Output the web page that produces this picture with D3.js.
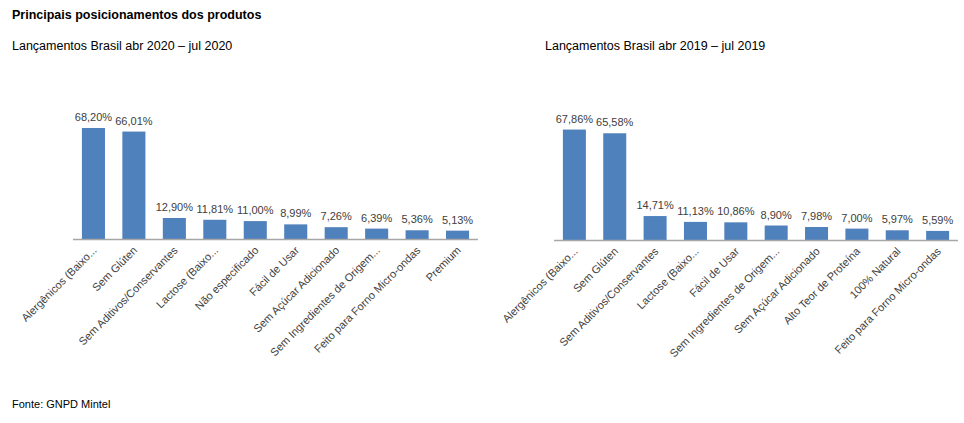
<!DOCTYPE html>
<html>
<head>
<meta charset="utf-8">
<script src="https://d3js.org/d3.v7.min.js"></script>
<style>
body { margin: 0; background: #fff; }
text { font-family: "Liberation Sans", Arial, sans-serif; }
</style>
</head>
<body>
<svg id="chart" width="964" height="423"></svg>
<script>
var cats2020 = ["Alergênicos (Baixo...", "Sem Glúten", "Sem Aditivos/Conservantes", "Lactose  (Baixo...",
    "Não especificado", "Fácil de Usar", "Sem Açúcar Adicionado", "Sem Ingredientes de Origem...",
    "Feito para Forno Micro-ondas", "Premium"];
var vals2020 = [68.20, 66.01, 12.90, 11.81, 11.00, 8.99, 7.26, 6.39, 5.36, 5.13];

var cats2019 = ["Alergênicos (Baixo...", "Sem Glúten", "Sem Aditivos/Conservantes", "Lactose  (Baixo...",
    "Fácil de Usar", "Sem Ingredientes de Origem...", "Sem Açúcar Adicionado", "Alto Teor de Proteína",
    "100% Natural", "Feito para Forno Micro-ondas"];
var vals2019 = [67.86, 65.58, 14.71, 11.13, 10.86, 8.90, 7.98, 7.00, 5.97, 5.59];

var svg = d3.select("#chart");

svg.append("text").attr("x", 12).attr("y", 19).attr("font-size", 12.5)
    .attr("font-weight", "bold").attr("fill", "#000")
    .text("Principais posicionamentos dos produtos");

svg.append("text").attr("x", 12).attr("y", 50).attr("font-size", 12.5).attr("fill", "#000")
    .text("Lançamentos Brasil abr 2020 – jul 2020");
svg.append("text").attr("x", 545).attr("y", 50).attr("font-size", 12.5).attr("fill", "#000")
    .text("Lançamentos Brasil abr 2019 – jul 2019");
svg.append("text").attr("x", 12).attr("y", 408).attr("font-size", 11).attr("fill", "#000")
    .text("Fonte: GNPD Mintel");

function fmt(v) { return v.toFixed(2).replace(".", ",") + "%"; }

function drawChart(cats, vals, xLeft, xRight, axisY) {
    var x = d3.scaleBand().domain(cats).range([xLeft, xRight]).paddingInner(0.43).paddingOuter(0.22);
    var y = d3.scaleLinear().domain([0, 68.2]).range([axisY, axisY - 111]);
    var g = svg.append("g");

    g.selectAll("rect").data(vals).enter().append("rect")
        .attr("x", function(d, i) { return x(cats[i]); })
        .attr("y", function(d) { return y(d); })
        .attr("width", x.bandwidth())
        .attr("height", function(d) { return axisY - y(d); })
        .attr("fill", "#4f81bd");

    g.append("line").attr("x1", xLeft).attr("x2", xRight)
        .attr("y1", axisY + 0.5).attr("y2", axisY + 0.5)
        .attr("stroke", "#a6a6a6").attr("stroke-width", 1.5);

    g.selectAll("text.val").data(vals).enter().append("text")
        .attr("class", "val")
        .attr("x", function(d, i) { return x(cats[i]) + x.bandwidth() / 2; })
        .attr("y", function(d) { return y(d) - 7; })
        .attr("text-anchor", "middle").attr("font-size", 11).attr("fill", "#404040")
        .text(fmt);

    g.selectAll("text.cat").data(cats).enter().append("text")
        .attr("class", "cat")
        .attr("transform", function(d) {
            return "translate(" + (x(d) + x.bandwidth() / 2 + 4) + "," + (axisY + 12) + ") rotate(-45)";
        })
        .attr("text-anchor", "end").attr("font-size", 11).attr("fill", "#404040")
        .text(function(d) { return d; });
}

drawChart(cats2020, vals2020, 73, 478, 239);
drawChart(cats2019, vals2019, 554, 958, 240);
</script>
</body>
</html>
